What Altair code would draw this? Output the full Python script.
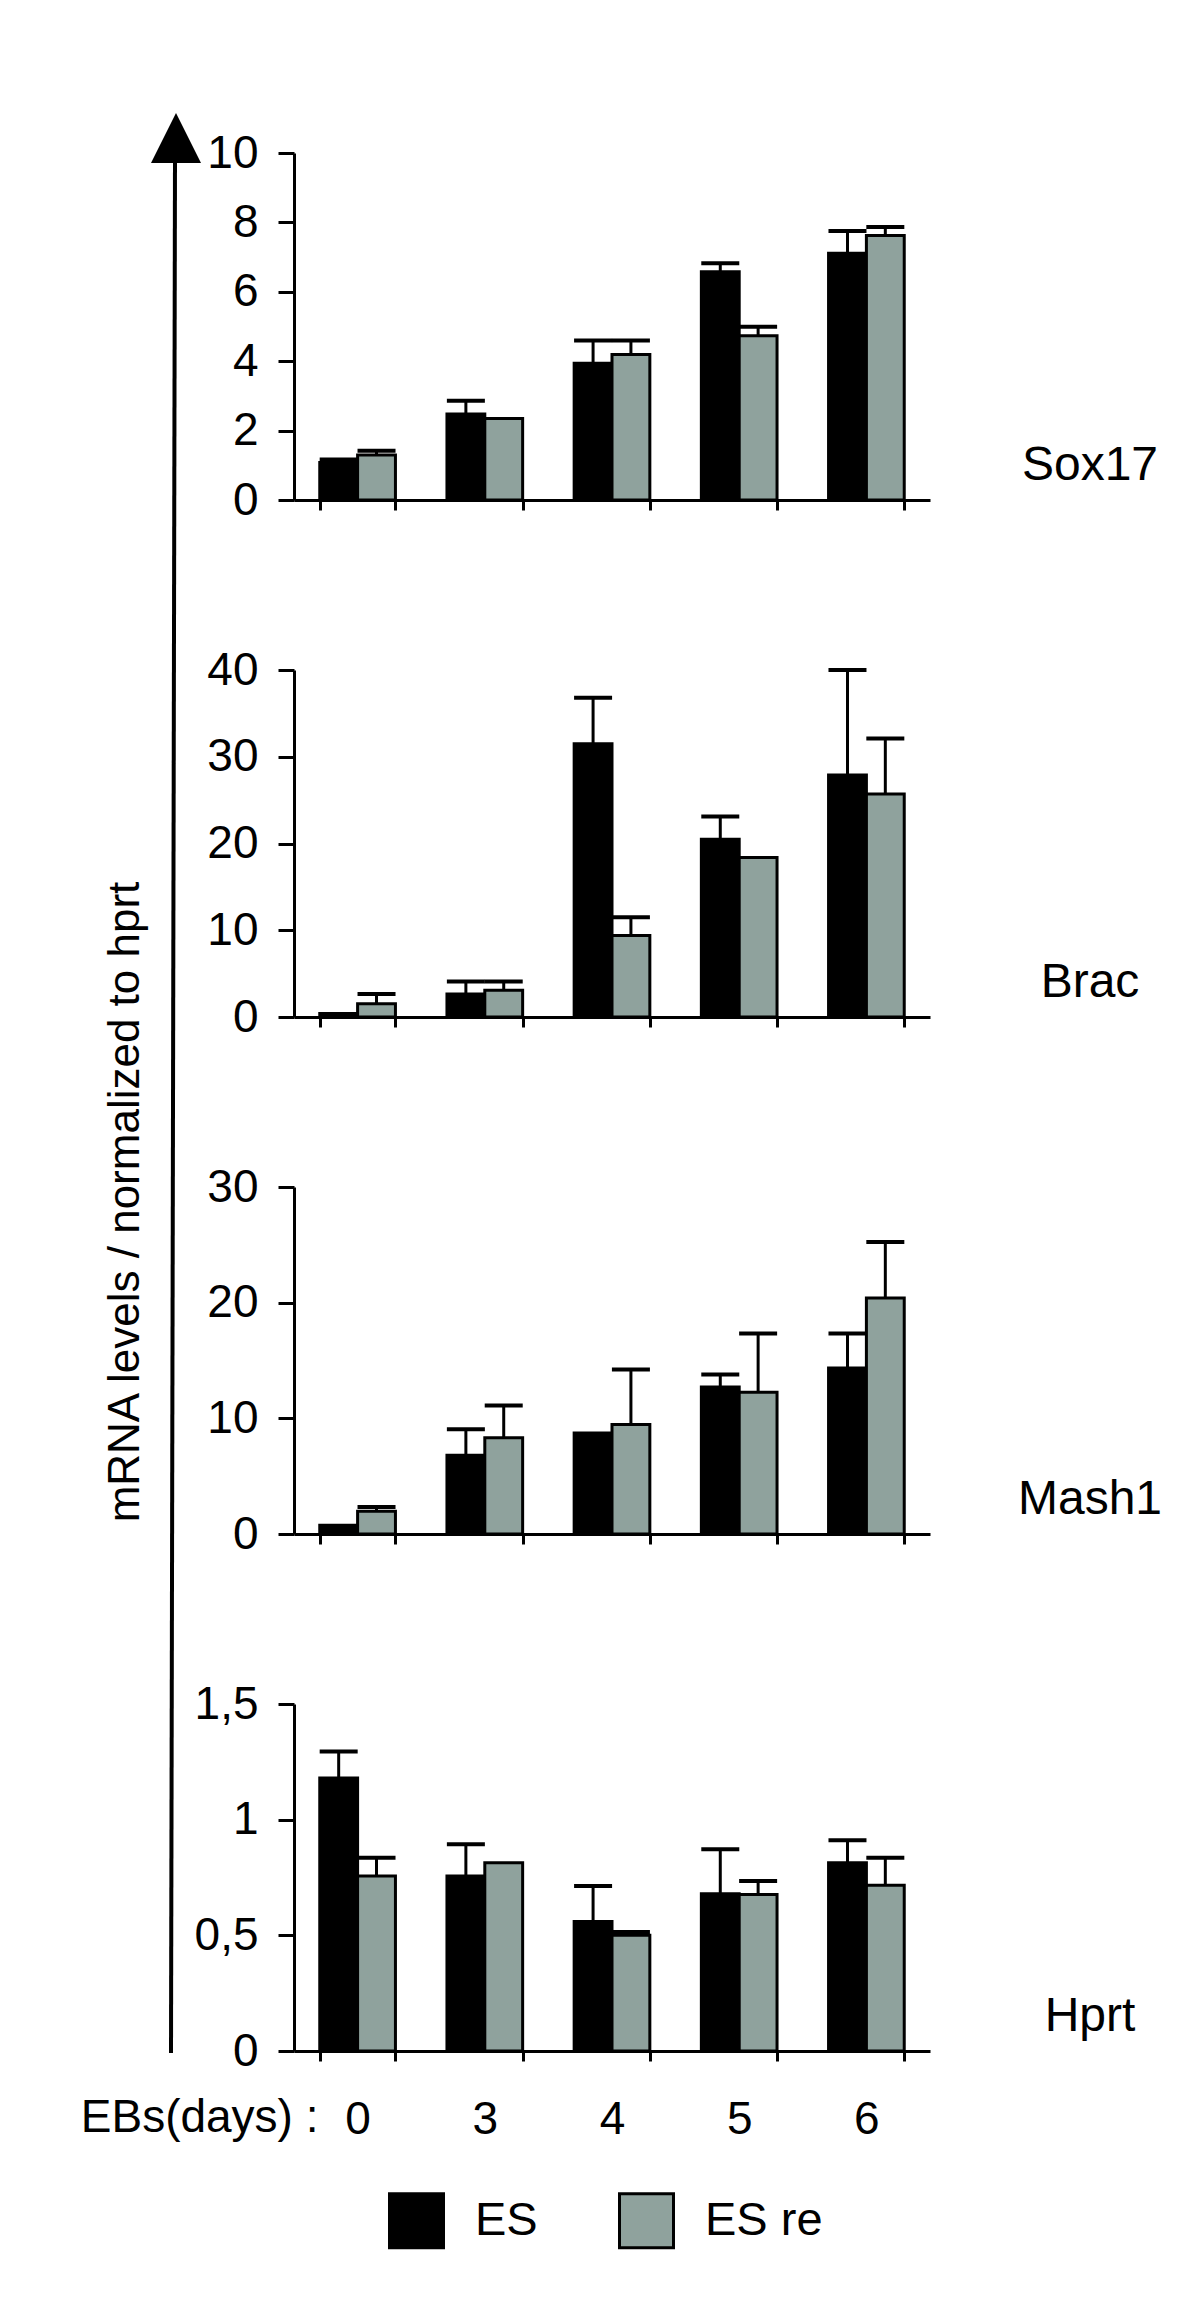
import altair as alt
import pandas as pd

DAYS = ["0", "3", "4", "5", "6"]
SERIES = ["ES", "ES re"]
COLORS = ["#000000", "#8fa29d"]
GENES = ["Sox17", "Brac", "Mash1", "Hprt"]

SOX17_ES = [1.08, 2.48, 3.94, 6.58, 7.11]
SOX17_ES_ERR = [1.17, 2.86, 4.60, 6.82, 7.75]
SOX17_ESRE = [1.30, 2.35, 4.19, 4.73, 7.62]
SOX17_ESRE_ERR = [1.42, None, 4.60, 4.99, 7.87]

BRAC_ES = [0.4, 2.65, 31.5, 20.5, 27.9]
BRAC_ES_ERR = [None, 4.1, 36.8, 23.1, 40.0]
BRAC_ESRE = [1.54, 3.08, 9.4, 18.4, 25.7]
BRAC_ESRE_ERR = [2.65, 4.1, 11.5, None, 32.1]

MASH1_ES = [0.75, 6.8, 8.74, 12.7, 14.36]
MASH1_ES_ERR = [None, 9.05, None, 13.8, 17.34]
MASH1_ESRE = [1.96, 8.33, 9.46, 12.26, 20.4]
MASH1_ESRE_ERR = [2.33, 11.1, 14.22, 17.34, 25.24]

HPRT_ES = [1.18, 0.757, 0.56, 0.68, 0.814]
HPRT_ES_ERR = [1.295, 0.894, 0.713, 0.872, 0.911]
HPRT_ESRE = [0.757, 0.814, 0.50, 0.676, 0.716]
HPRT_ESRE_ERR = [0.835, None, 0.514, 0.735, 0.835]

Y_TICKS = {
    "Sox17": [0, 2, 4, 6, 8, 10],
    "Brac": [0, 10, 20, 30, 40],
    "Mash1": [0, 10, 20, 30],
    "Hprt": [0, 0.5, 1, 1.5],
}

GENE_DATA = {
    "Sox17": (SOX17_ES, SOX17_ES_ERR, SOX17_ESRE, SOX17_ESRE_ERR),
    "Brac": (BRAC_ES, BRAC_ES_ERR, BRAC_ESRE, BRAC_ESRE_ERR),
    "Mash1": (MASH1_ES, MASH1_ES_ERR, MASH1_ESRE, MASH1_ESRE_ERR),
    "Hprt": (HPRT_ES, HPRT_ES_ERR, HPRT_ESRE, HPRT_ESRE_ERR),
}

Y_TITLE = "mRNA levels / normalized to hprt"
X_TITLE = "EBs(days) :"

rows = []
for g in GENES:
    es, es_err, re, re_err = GENE_DATA[g]
    for i, d in enumerate(DAYS):
        rows.append({"gene": g, "day": d, "series": SERIES[0], "value": es[i], "err": es_err[i]})
        rows.append({"gene": g, "day": d, "series": SERIES[1], "value": re[i], "err": re_err[i]})
df = pd.DataFrame(rows)

FONT = "Liberation Sans"
W, H = 636, 347

color_enc = alt.Color(
    "series:N",
    scale=alt.Scale(domain=SERIES, range=COLORS),
    legend=alt.Legend(
        orient="none", legendX=94, legendY=2039, direction="horizontal", title=None,
        symbolType="square", symbolSize=2916, symbolStrokeColor="black", symbolStrokeWidth=3,
        symbolOpacity=1, labelFontSize=47, labelFont=FONT, labelColor="black",
        labelOffset=30, columnPadding=75,
    ),
)


def panel(gene, idx):
    d = df[df.gene == gene]
    ticks = Y_TICKS[gene]
    last = idx == len(GENES) - 1
    xscale = alt.Scale(domain=DAYS, paddingInner=0.405, paddingOuter=0.2025)
    xaxis = alt.Axis(
        title=X_TITLE if last else None, labels=last, tickBand="extent", tickSize=10,
        labelFontSize=46, labelPadding=36, labelAngle=0,
        titleFontSize=46, titleFontWeight="normal", titleFont=FONT, titleColor="black",
        titleAngle=0, titleAlign="right", titleBaseline="top", titleX=24, titleY=44,
    )
    yaxis = alt.Axis(
        title=None, values=ticks, tickSize=16, labelPadding=20, grid=False,
        labelExpr="replace(format(datum.value, '~g'), '.', ',')",
    )
    yscale = alt.Scale(domain=[0, ticks[-1]], nice=False, zero=True)
    x = alt.X("day:N", sort=DAYS, scale=xscale, axis=xaxis)
    xo = alt.XOffset("series:N", sort=SERIES, scale=alt.Scale(paddingInner=0, paddingOuter=0))
    base = alt.Chart(d)
    bars = base.mark_bar(stroke="black", strokeWidth=3, opacity=1).encode(
        x=x, xOffset=xo, y=alt.Y("value:Q", scale=yscale, axis=yaxis), color=color_enc,
    )
    errs = base.transform_filter("isValid(datum.err)")
    rule = errs.mark_rule(color="black", strokeWidth=3).encode(
        x=x, xOffset=xo, y=alt.Y("value:Q", scale=yscale, axis=yaxis), y2="err:Q",
    )
    cap = errs.mark_tick(color="black", thickness=4, size=38, opacity=1).encode(
        x=x, xOffset=xo, y=alt.Y("err:Q", scale=yscale, axis=yaxis),
    )
    label = alt.Chart(pd.DataFrame({"gene": [gene]})).mark_text(
        font=FONT, fontSize=48, color="black", align="center", baseline="middle"
    ).encode(text="gene:N", x=alt.value(796), y=alt.value(313))
    layers = [bars, rule, cap, label]
    if idx == 0:
        one = alt.Chart(pd.DataFrame({"k": [0]}))
        anchor = one.mark_rule(strokeOpacity=0, strokeWidth=1).encode(
            x=alt.value(-286), x2=alt.value(-285), y=alt.value(-145), y2=alt.value(-144)
        )
        arrow = one.mark_rule(color="black", strokeWidth=4).encode(
            x=alt.value(-119), x2=alt.value(-123), y=alt.value(5), y2=alt.value(1900)
        )
        head = one.mark_point(
            shape="M0,-1L1,1L-1,1Z", size=2500, filled=True, color="black", opacity=1
        ).encode(x=alt.value(-118), y=alt.value(-15))
        ytitle = one.mark_text(
            font=FONT, fontSize=44, color="black", angle=270, align="center", baseline="middle"
        ).encode(text=alt.value(Y_TITLE), x=alt.value(-168), y=alt.value(1049))
        layers = [anchor, arrow, head, ytitle] + layers
    return alt.layer(*layers).properties(width=W, height=H)


panels = [panel(g, i) for i, g in enumerate(GENES)]

chart = (
    alt.vconcat(*panels, spacing=170, bounds="flush")
    .properties(padding=0, background="white")
    .configure_view(stroke=None)
    .configure_axis(
        domainColor="black", domainWidth=3, tickColor="black", tickWidth=3,
        labelFont=FONT, labelFontSize=46, labelColor="black",
    )
)

chart.save("out.html", embed_options={"renderer": "svg", "actions": False})
